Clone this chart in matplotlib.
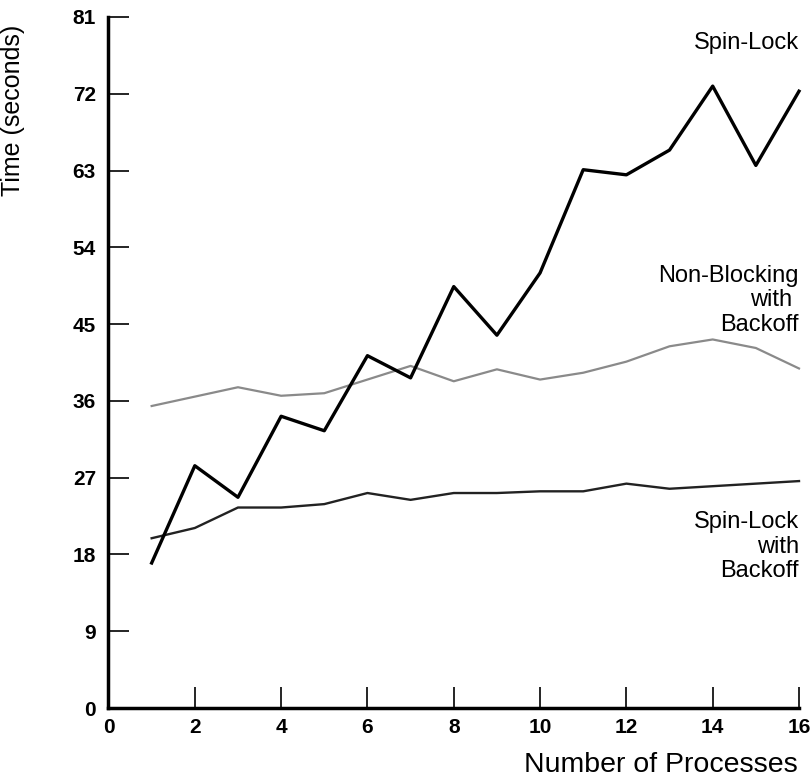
import matplotlib.pyplot as plt
import numpy as np

plt.rcParams['font.family'] = ['Liberation Sans', 'DejaVu Sans']

procs = np.arange(1, 17)
spin_lock = [17.0, 28.4, 24.7, 34.2, 32.5, 41.3, 38.7, 49.4, 43.7, 51.0,
             63.1, 62.5, 65.4, 72.9, 63.6, 72.3]
non_blocking = [35.4, 36.5, 37.6, 36.6, 36.9, 38.5, 40.1, 38.3, 39.7, 38.5,
                39.3, 40.6, 42.4, 43.2, 42.2, 39.8]
spin_backoff = [19.9, 21.1, 23.5, 23.5, 23.9, 25.2, 24.4, 25.2, 25.2, 25.4,
                25.4, 26.3, 25.7, 26.0, 26.3, 26.6]

xticks = [0, 2, 4, 6, 8, 10, 12, 14, 16]
yticks = [0, 9, 18, 27, 36, 45, 54, 63, 72, 81]

fig = plt.figure(figsize=(8.12, 7.81), dpi=100)
ax = fig.add_axes([108.5 / 812, 1 - 708 / 781, 690.5 / 812, 691 / 781])

ax.plot(procs, non_blocking, color='#8a8a8a', lw=1.6, clip_on=False)
ax.plot(procs, spin_backoff, color='#222222', lw=1.7, clip_on=False)
ax.plot(procs, spin_lock, color='black', lw=2.4, clip_on=False)

ax.set_xlim(0, 16)
ax.set_ylim(0, 81)
ax.set_xticks(xticks)
ax.set_yticks(yticks)
for s in ['top', 'right']:
    ax.spines[s].set_visible(False)
for s in ['left', 'bottom']:
    ax.spines[s].set_linewidth(2.5)
ax.tick_params(axis='y', direction='in', length=15, width=1.2, pad=9, labelsize=15)
ax.tick_params(axis='x', direction='in', length=15, width=1.2, pad=7, labelsize=15)
ax.set_xticklabels([str(t) for t in xticks], fontweight='bold', fontsize=15)
ax.set_yticklabels([str(t) for t in yticks], fontweight='bold', fontsize=15)

ax.set_ylabel('Time (seconds)', fontsize=18)
ax.yaxis.set_label_coords(-0.121, 0.865)
ax.set_xlabel('Number of Processes', fontsize=20.5, ha='right', va='center')
ax.xaxis.set_label_coords(0.9986, -0.0825)

ax.text(16, 78.0, 'Spin-Lock', fontsize=17, ha='right', va='center')
ax.text(16, 47.8, 'Non-Blocking\nwith \nBackoff', fontsize=17, ha='right',
        va='center', linespacing=1.14)
ax.text(16, 18.9, 'Spin-Lock\nwith\nBackoff', fontsize=17, ha='right',
        va='center', linespacing=1.14)

fig.savefig('out.png', dpi=100)
